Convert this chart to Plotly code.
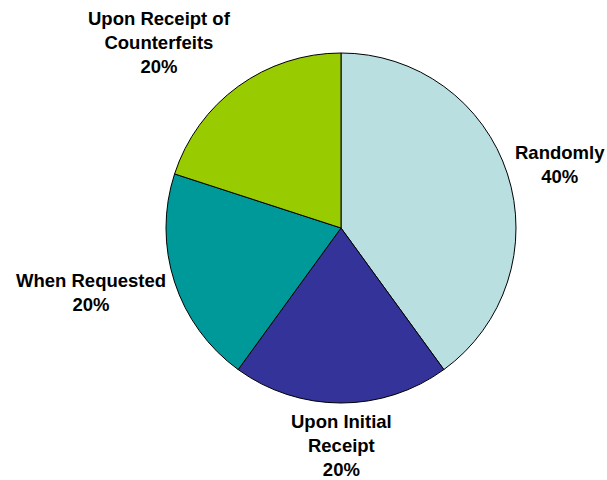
import plotly.graph_objects as go

categories = ["Randomly", "Upon Initial Receipt", "When Requested", "Upon Receipt of Counterfeits"]
display_labels = ["Randomly", "Upon Initial<br>Receipt", "When Requested", "Upon Receipt of<br>Counterfeits"]
values = [40, 20, 20, 20]
colors = ["#B9DFE1", "#333399", "#009999", "#99CC00"]

W, H = 607, 480
# label anchor centres in reference pixels (layout only)
label_pos = [(560, 164), (341, 445), (91, 292), (159, 42)]


def px_x(x):
    return x / W


def px_y(y):
    return 1 - y / H


total = sum(values)
fig = go.Figure(go.Pie(
    labels=categories,
    values=values,
    sort=False,
    direction="clockwise",
    rotation=0,
    marker=dict(colors=colors, line=dict(color="#000000", width=1)),
    textinfo="none",
    hoverinfo="label+percent",
    showlegend=False,
    domain=dict(x=[px_x(166), px_x(516)], y=[px_y(403), px_y(53)]),
))

for lab, v, (px, py) in zip(display_labels, values, label_pos):
    fig.add_annotation(
        x=px_x(px), y=px_y(py), xref="paper", yref="paper",
        text=f"<b>{lab}<br>{round(100 * v / total)}%</b>",
        showarrow=False, xanchor="center", yanchor="middle",
        font=dict(family="Liberation Sans, Arial, sans-serif", size=18.5, color="#000000"),
        align="center", borderpad=0,
    )

fig.update_layout(
    width=W, height=H,
    margin=dict(l=0, r=0, t=0, b=0),
    paper_bgcolor="#FFFFFF", plot_bgcolor="#FFFFFF",
)

fig.write_html(
    "out.html",
    config={"displayModeBar": False},
    post_script="document.body.style.margin='0';document.body.style.overflow='hidden';",
)
